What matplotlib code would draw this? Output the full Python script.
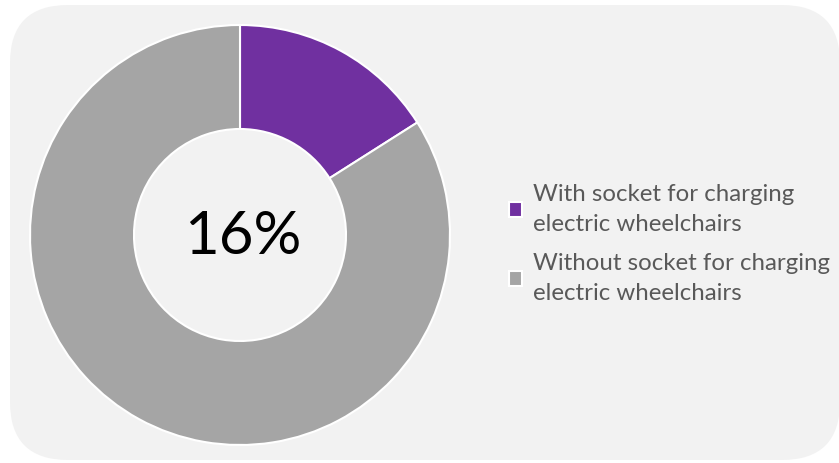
import matplotlib.pyplot as plt
from matplotlib.patches import FancyBboxPatch

labels = ["With socket for charging\nelectric wheelchairs",
          "Without socket for charging\nelectric wheelchairs"]
values = [16, 84]
colors = ["#7030a0", "#a5a5a5"]
center_label = "16%"

W, H = 839, 463
fig = plt.figure(figsize=(W / 100, H / 100), dpi=100)
ax = fig.add_axes([0, 0, 1, 1])

# rounded panel behind the chart
bg = FancyBboxPatch((10, 3), 830, 455, boxstyle="round,pad=0,rounding_size=58",
                    facecolor="#f2f2f2", edgecolor="none", zorder=0)
ax.add_patch(bg)

wedges, _ = ax.pie(values, colors=colors, startangle=90, counterclock=False,
                   center=(240, H - 235), radius=210, frame=True,
                   wedgeprops=dict(width=104, edgecolor="white", linewidth=1.5))
ax.set_xlim(0, W)
ax.set_ylim(0, H)
ax.set_aspect("equal")
ax.axis("off")

ax.text(243, H - 237, center_label, ha="center", va="center",
        fontsize=43, family="Lato", color="black")

leg = ax.legend(wedges, labels, loc="upper left", bbox_to_anchor=(499 / W, 1 - 174 / H),
                frameon=False, handlelength=0.55, handleheight=0.55,
                handletextpad=0.45, labelspacing=0.75, borderaxespad=0,
                prop={"family": "Lato", "size": 17.3})
for t in leg.get_texts():
    t.set_color("#595959")
    t.set_linespacing(1.55)

fig.savefig("out.png", dpi=100, facecolor="white")
